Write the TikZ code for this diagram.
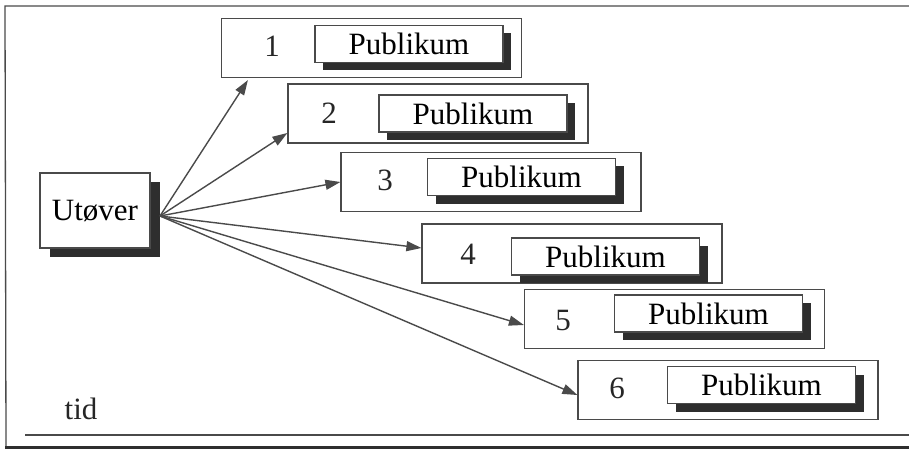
\documentclass[tikz,border=0pt]{standalone}
\usepackage{fontspec}
\setmainfont{Liberation Serif}
\usetikzlibrary{arrows.meta,shadows}
\definecolor{ink}{HTML}{4A4A4A}
\definecolor{shade}{HTML}{2E2E2E}
\tikzset{
  frameline/.style={draw=ink,line width=1.3pt},
  outerbox/.style={draw=ink,line width=1.2pt,minimum width=300pt,minimum height=59pt,inner sep=0pt},
  pubbox/.style={draw=ink,line width=1.2pt,fill=white,minimum width=188pt,minimum height=37pt,inner sep=0pt,
    font=\fontsize{31}{36}\selectfont,
    general shadow={fill=shade,shadow xshift=8pt,shadow yshift=-8pt}},
  numlabel/.style={font=\fontsize{31}{36}\selectfont,text=black!85,inner sep=0pt},
  actorbox/.style={draw=ink,line width=1.2pt,fill=white,minimum width=110pt,minimum height=75pt,inner sep=0pt,
    font=\fontsize{31}{36}\selectfont,
    general shadow={fill=shade,shadow xshift=10pt,shadow yshift=-9pt}},
  arr/.style={draw=ink,line width=1.4pt,-{Triangle[length=15pt,width=10pt]}}
}
\begin{document}
\begin{tikzpicture}[x=1pt,y=-1pt]
\useasboundingbox (0,0) rectangle (909,449);
% frame
\draw[frameline] (909,6) -- (5,6) -- (6,447);
\draw[draw=ink,line width=1.2pt] (25,435) -- (909,435);
\draw[draw=shade,line width=3pt] (5,447) -- (909,447);
% actor
\node[actorbox] (u) at (95,210.5) {Utøver};
\coordinate (src) at (160,216);
% boxes
\node[outerbox] (b1) at (371.5,48) {};
\node[outerbox] (b2) at (438,113.5) {};
\node[outerbox] (b3) at (491,182) {};
\node[outerbox] (b4) at (572,253.5) {};
\node[outerbox] (b5) at (674.5,319) {};
\node[outerbox] (b6) at (728,390) {};
\node[pubbox] (p1) at (409,44) {Publikum};
\node[pubbox] (p2) at (473,113.5) {Publikum};
\node[pubbox] (p3) at (521.5,177) {Publikum};
\node[pubbox] (p4) at (605.5,256.5) {Publikum};
\node[pubbox] (p5) at (708.5,313.5) {Publikum};
\node[pubbox] (p6) at (761.5,385) {Publikum};
\node[numlabel] (n1) at (272,46) {1};
\node[numlabel] (n2) at (329,113) {2};
\node[numlabel] (n3) at (385,180) {3};
\node[numlabel] (n4) at (468,254) {4};
\node[numlabel] (n5) at (563,320) {5};
\node[numlabel] (n6) at (617,388) {6};
\node[numlabel] (tid) at (81,409) {tid};
% arrows
\draw[arr] (src) -- ([xshift=27pt,yshift=-2pt]b1.south west);
\draw[arr] (src) -- ([yshift=-19.5pt]b2.west);
\draw[arr] (src) -- (b3.west);
\draw[arr] (src) -- ([yshift=5.5pt]b4.west);
\draw[arr] (src) -- ([yshift=-6pt]b5.west);
\draw[arr] (src) -- ([yshift=-5pt]b6.west);
\end{tikzpicture}
\end{document}
